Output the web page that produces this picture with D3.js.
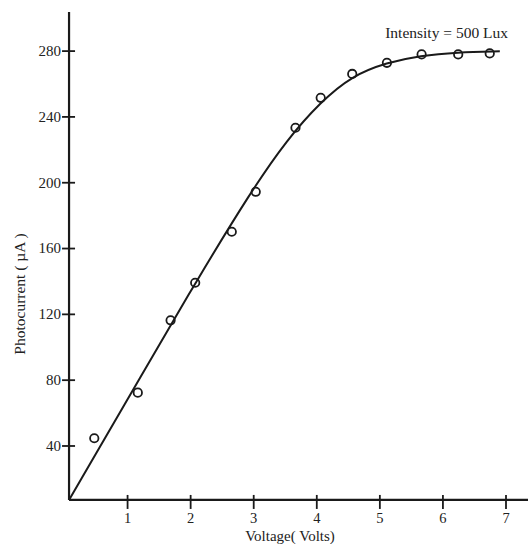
<!DOCTYPE html>
<html>
<head>
<meta charset="utf-8">
<title>Photocurrent vs Voltage</title>
<script src="https://d3js.org/d3.v7.min.js"></script>
<style>
body { margin:0; background:#fff; }
svg text { font-family:"Liberation Serif","Times New Roman",serif; fill:#222; }
</style>
</head>
<body>
<svg id="chart" width="528" height="544"></svg>
<script>
// measured points (circles)
var pointVolts = [0.48, 1.17, 1.69, 2.08, 2.66, 3.04, 3.67, 4.07, 4.57, 5.12, 5.67, 6.25, 6.75];
var pointCurrent = [44.4, 72.1, 116.1, 138.9, 169.9, 194.2, 233.1, 251.3, 265.8, 272.6, 277.7, 277.7, 278.3];
// fitted curve
var curveVolts = [0.08, 1.28, 2.08, 2.98, 3.53, 4.07, 4.57, 5.12, 5.65, 6.23, 6.91];
var curveCurrent = [6.9, 86.0, 138.8, 195.3, 225.6, 248.9, 264.8, 272.8, 277.0, 279, 279.6];
var xTicks = [1, 2, 3, 4, 5, 6, 7];
var yTicks = [40, 80, 120, 160, 200, 240, 280];
var axisCross = [0.08, 6.9]; // where the axes meet (volts, µA)

var svg = d3.select('#chart');
var x = d3.scaleLinear().domain([0, 7]).range([64, 505.5]);
var y = d3.scaleLinear().domain([0, 280]).range([511.3, 50.6]);

var ox = x(axisCross[0]), oy = y(axisCross[1]);
var ink = '#1a1a1a';

// axes lines
svg.append('line').attr('x1', ox).attr('x2', ox).attr('y1', 12).attr('y2', oy)
  .attr('stroke', ink).attr('stroke-width', 2.2);
svg.append('line').attr('x1', ox).attr('x2', 528).attr('y1', oy).attr('y2', oy)
  .attr('stroke', ink).attr('stroke-width', 2.2);

// x axis
var gx = svg.append('g').attr('transform', 'translate(0,' + oy + ')')
  .call(d3.axisBottom(x).tickValues(xTicks).tickSize(0).tickFormat(d3.format('d')));
gx.select('.domain').remove();
gx.selectAll('.tick line').attr('y1', -5).attr('y2', 9).attr('stroke', ink).attr('stroke-width', 1.8);
gx.selectAll('.tick text').attr('y', 23).attr('dy', 0).style('font-size', '14.5px').attr('fill', ink);

// y axis
var gy = svg.append('g').attr('transform', 'translate(' + ox + ',0)')
  .call(d3.axisLeft(y).tickValues(yTicks).tickSize(0).tickFormat(d3.format('d')));
gy.select('.domain').remove();
gy.selectAll('.tick line').attr('x1', -7).attr('x2', 6).attr('stroke', ink).attr('stroke-width', 1.8);
gy.selectAll('.tick text').attr('x', -8).style('font-size', '15px').attr('fill', ink);

// curve
var curveData = curveVolts.map(function(v, i) { return [v, curveCurrent[i]]; });
var line = d3.line().x(function(d) { return x(d[0]); }).y(function(d) { return y(d[1]); })
  .curve(d3.curveBasis);
svg.append('path').datum(curveData).attr('d', line)
  .attr('fill', 'none').attr('stroke', ink).attr('stroke-width', 2);

// points
svg.selectAll('circle.pt').data(pointVolts).enter().append('circle')
  .attr('class', 'pt')
  .attr('cx', function(d) { return x(d); })
  .attr('cy', function(d, i) { return y(pointCurrent[i]); })
  .attr('r', 4.2).attr('fill', 'none').attr('stroke', ink).attr('stroke-width', 1.8);

// labels
svg.append('text').attr('x', 290).attr('y', 540.5).attr('text-anchor', 'middle')
  .style('font-size', '15px').text('Voltage( Volts)');
svg.append('text').attr('transform', 'translate(25,294) rotate(-90)').attr('text-anchor', 'middle')
  .style('font-size', '15.5px').text('Photocurrent ( µA )');
svg.append('text').attr('x', 508).attr('y', 38).attr('text-anchor', 'end')
  .style('font-size', '15.5px').text('Intensity = 500 Lux');
</script>
</body>
</html>
